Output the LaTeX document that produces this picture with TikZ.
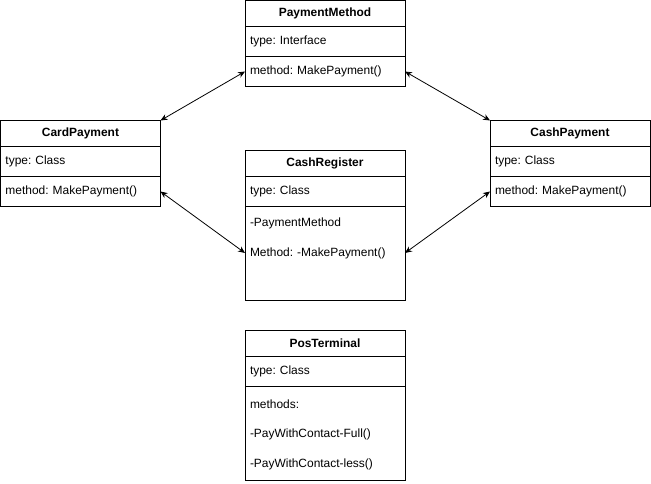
\documentclass[tikz,border=0pt]{standalone}
\usepackage{fontspec}
\setmainfont{Liberation Sans}
\usetikzlibrary{arrows.meta,positioning}
\frenchspacing
\definecolor{Ink}{HTML}{000000}
\definecolor{Paper}{HTML}{FFFFFF}
\tikzset{
  boxhead/.style={draw=Ink,line width=1bp,fill=Paper,minimum width=160bp,minimum height=26bp,inner sep=0pt,outer sep=0pt,font=\fontsize{12}{14}\selectfont\bfseries},
  boxrow/.style={draw=Ink,line width=1bp,fill=Paper,minimum width=160bp,minimum height=30bp,inner xsep=5bp,inner ysep=0pt,outer sep=0pt,text width=150bp,align=left,font=\fontsize{12}{14}\selectfont},
  boxbody/.style={draw=Ink,line width=1bp,fill=Paper,minimum width=160bp,minimum height=94bp,inner sep=0pt,outer sep=0pt},
  boxline/.style={minimum width=160bp,minimum height=30bp,inner xsep=5bp,inner ysep=0pt,outer sep=0pt,text width=150bp,align=left,font=\fontsize{12}{14}\selectfont},
  link/.style={Ink,line width=.8bp,{Stealth[length=7bp,width=6bp]}-{Stealth[length=7bp,width=6bp]}}
}
\begin{document}
\begin{tikzpicture}[x=1bp,y=-1bp]
\useasboundingbox (0,0) rectangle (651,484);
\fill[Paper] (0,0) rectangle (651,484);
% interface
\node[boxhead] (pmHead) at (325,13.5) {PaymentMethod};
\node[boxrow,below=0pt of pmHead] (pmType) {type: Interface};
\node[boxrow,below=0pt of pmType] (pmMeth) {method: MakePayment()};
% card payment
\node[boxhead] (cardHead) at (80.5,133.5) {CardPayment};
\node[boxrow,below=0pt of cardHead] (cardType) {type: Class};
\node[boxrow,below=0pt of cardType] (cardMeth) {method: MakePayment()};
% cash payment
\node[boxhead] (cashHead) at (570,133.5) {CashPayment};
\node[boxrow,below=0pt of cashHead] (cashType) {type: Class};
\node[boxrow,below=0pt of cashType] (cashMeth) {method: MakePayment()};
% register
\node[boxhead] (crHead) at (325,163.5) {CashRegister};
\node[boxrow,below=0pt of crHead] (crType) {type: Class};
\node[boxbody,below=0pt of crType] (crBody) {};
\node[boxline] (crAttr) at (325,223) {-PaymentMethod};
\node[boxline] (crMeth) at (325,253) {Method: -MakePayment()};
% terminal
\node[boxhead] (ptHead) at (325,343.5) {PosTerminal};
\node[boxrow,below=0pt of ptHead] (ptType) {type: Class};
\node[boxbody,below=0pt of ptType] (ptBody) {};
\node[boxline] (ptList) at (325,404) {methods:};
\node[boxline] (ptFull) at (325,434) {-PayWithContact-Full()};
\node[boxline] (ptLess) at (325,464) {-PayWithContact-less()};
% links
\draw[link] (cardHead.north east) -- (pmMeth.west);
\draw[link] (pmMeth.east) -- (cashHead.north west);
\draw[link] (cardMeth.east) -- (crMeth.west);
\draw[link] (crMeth.east) -- (cashMeth.west);
\end{tikzpicture}
\end{document}
